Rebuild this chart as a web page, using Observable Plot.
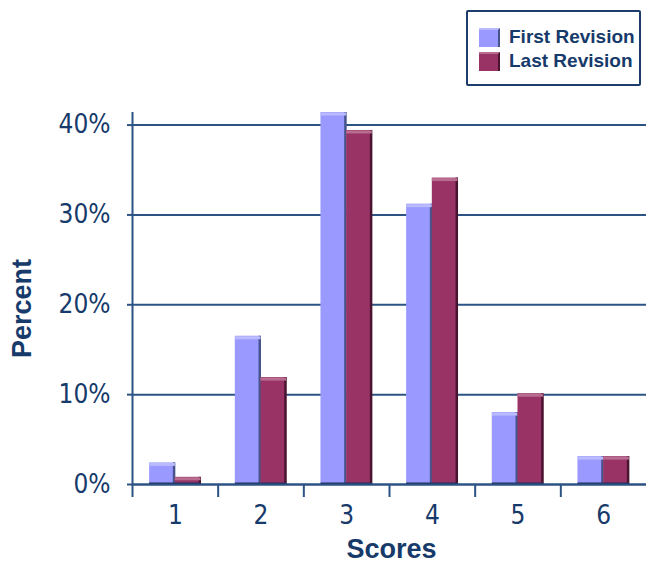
<!DOCTYPE html>
<html>
<head>
<meta charset="utf-8">
<script src="https://cdn.jsdelivr.net/npm/d3@7"></script>
<script src="https://cdn.jsdelivr.net/npm/@observablehq/plot@0.6"></script>
<style>
  html, body { margin: 0; padding: 0; background: #fff; }
  #wrap { position: relative; width: 646px; height: 563px; overflow: hidden; }
  #legend { position: absolute; left: 466px; top: 10px; width: 171px; height: 72px;
    border: 2px solid #1d3d6c; border-radius: 2px; background: #fff;
    font-family: "Liberation Sans", Arial, sans-serif; font-weight: bold; font-size: 19px; color: #163a6a; }
  .item { position: absolute; left: 11px; height: 20px; display: flex; align-items: center; }
  .sw { width: 21px; height: 19px; margin-right: 9px; box-sizing: border-box; }
  .narrow, .narrow text { font-stretch: condensed; }
</style>
</head>
<body>
<div id="wrap"></div>
<script>
const scores = [1, 2, 3, 4, 5, 6];
const firstRevision = [2.4, 16.5, 41.4, 31.2, 8.0, 3.1];
const lastRevision = [0.8, 11.9, 39.4, 34.1, 10.1, 3.1];
const seriesNames = ["First Revision", "Last Revision"];
const seriesColors = ["#9999ff", "#993366"];
const seriesHighlight = ["#babaff", "#b86c8f"];
const seriesEdge = ["#47548c", "#4a1430"];
const yTicks = [0, 10, 20, 30, 40];
const boundaryTicks = [0.5, 1.5, 2.5, 3.5, 4.5, 5.5];
const xTitle = "Scores";
const yTitle = "Percent";

const navy = "#163a6a";
const lineColor = "#2d5384";
const barShare = 0.3;
const narrowFont = "'Liberation Sans Narrow', 'DejaVu Sans Condensed', 'Arial Narrow', sans-serif";

const rows = [];
scores.forEach((s, i) => {
  rows.push({score: s, series: 0, x1: s - barShare, x2: s, value: firstRevision[i]});
  rows.push({score: s, series: 1, x1: s, x2: s + barShare, value: lastRevision[i]});
});
const bySeries = k => rows.filter(r => r.series === k);

const barMarks = [0, 1].flatMap(k => [
  Plot.rectY(bySeries(k), {x1: "x1", x2: "x2", y1: 0, y2: "value", fill: seriesColors[k]}),
  Plot.ruleX(bySeries(k), {x: "x2", y1: 0, y2: "value", stroke: seriesEdge[k], strokeWidth: 2.5, dx: -1.25}),
  Plot.ruleY(bySeries(k), {y: "value", x1: "x1", x2: "x2", stroke: seriesHighlight[k], strokeWidth: 3, dy: 1.5}),
  Plot.ruleY(bySeries(k), {y: 0, x1: "x1", x2: "x2", stroke: "#1f2f5a", strokeWidth: 2, dy: -1})
]);

const chart = Plot.plot({
  width: 646,
  height: 563,
  marginLeft: 132,
  marginRight: 0,
  marginTop: 112,
  marginBottom: 79,
  style: {background: "transparent", overflow: "visible"},
  x: {type: "linear", domain: [0.5, 6.5]},
  y: {type: "linear", domain: [0, 41.4]},
  marks: [
    Plot.gridY(yTicks, {stroke: lineColor, strokeOpacity: 1, strokeWidth: 2}),
    ...barMarks,
    Plot.ruleY([0], {stroke: lineColor, strokeWidth: 2}),
    Plot.ruleX([0.5], {stroke: lineColor, strokeWidth: 2}),
    Plot.axisY(yTicks, {
      tickSize: 5, tickPadding: 17, tickFormat: d => d + "%", stroke: lineColor, strokeWidth: 2,
      fill: navy, fontSize: 26, fontFamily: narrowFont, className: "narrow", label: null
    }),
    Plot.axisX(boundaryTicks, {tickSize: 13, tickFormat: () => "", stroke: lineColor, strokeWidth: 2, label: null}),
    Plot.axisX(scores, {
      tickSize: 0, tickPadding: 21, tickFormat: d => String(d), fill: navy, fontSize: 26,
      fontFamily: narrowFont, className: "narrow", label: null
    }),
    Plot.text([yTitle], {frameAnchor: "left", textAnchor: "middle", rotate: -90, dx: -110, dy: 10, text: d => d, fill: navy,
      fontSize: 27, fontWeight: "bold", fontFamily: "Liberation Sans, Arial, sans-serif"}),
    Plot.text([xTitle], {frameAnchor: "bottom", dy: 73, dx: 2, text: d => d, fill: navy,
      fontSize: 27, fontWeight: "bold", fontFamily: "Liberation Sans, Arial, sans-serif"})
  ]
});

const wrap = document.getElementById("wrap");
wrap.appendChild(chart);

const legend = document.createElement("div");
legend.id = "legend";
seriesNames.forEach((name, k) => {
  const item = document.createElement("div");
  item.className = "item";
  item.style.top = (k === 0 ? 15 : 39) + "px";
  const sw = document.createElement("div");
  sw.className = "sw";
  sw.style.background = seriesColors[k];
  sw.style.borderRight = "2px solid " + seriesEdge[k];
  sw.style.borderTop = "2px solid " + seriesHighlight[k];
  const label = document.createElement("span");
  label.textContent = name;
  item.appendChild(sw);
  item.appendChild(label);
  legend.appendChild(item);
});
wrap.appendChild(legend);
</script>
</body>
</html>
